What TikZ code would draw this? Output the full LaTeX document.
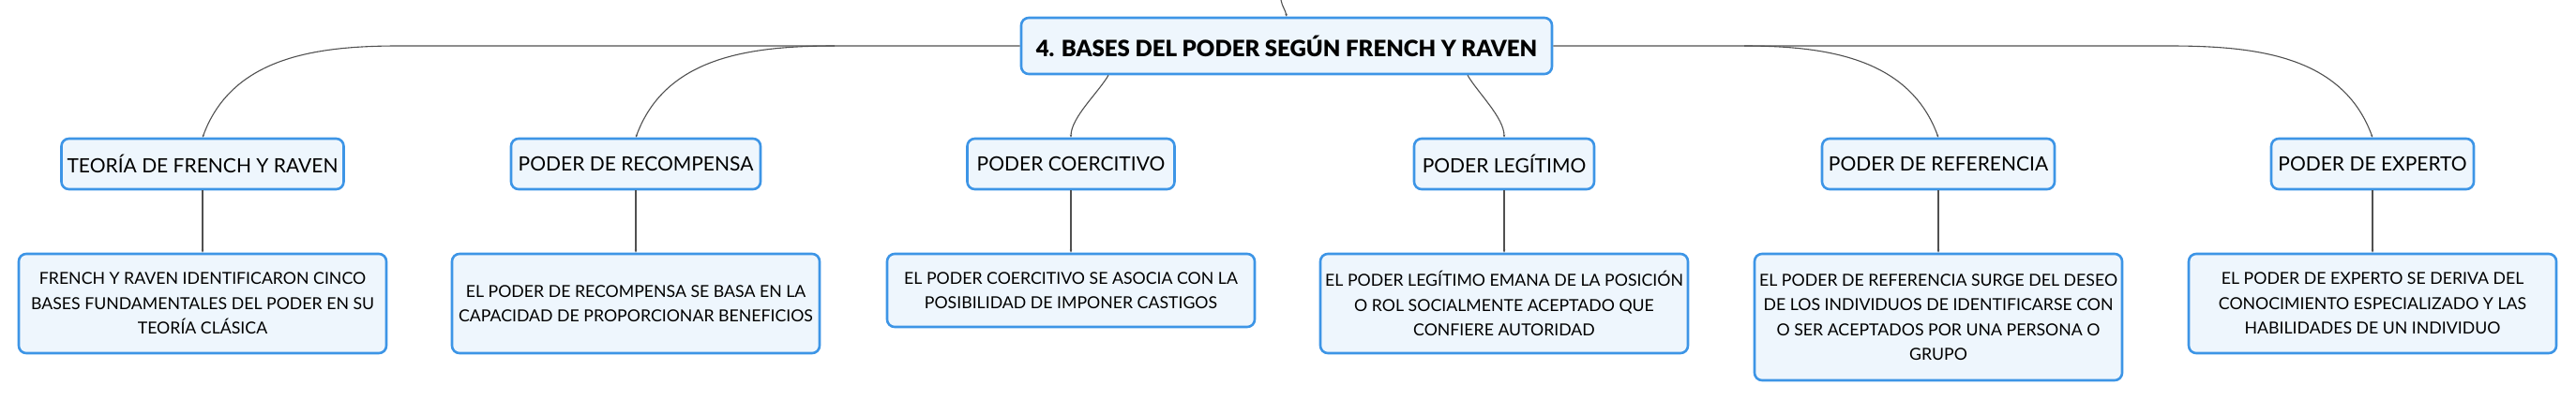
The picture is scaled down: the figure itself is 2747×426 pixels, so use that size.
\documentclass[tikz,border=0pt]{standalone}
\usepackage{fontspec}
\setmainfont{Lato}
\newfontfamily\titulo{Lato Black}
\usetikzlibrary{arrows.meta}
\definecolor{boxblue}{HTML}{3D95E6}
\definecolor{boxfill}{HTML}{EEF6FD}
\definecolor{linegray}{HTML}{505050}

\begin{document}
\begin{tikzpicture}[x=1pt,y=1pt,
  tema/.style={draw=boxblue,fill=boxfill,line width=2.6pt,rounded corners=8pt,inner sep=0pt,align=center,font=\fontsize{24}{30}\selectfont\titulo},
  base/.style={draw=boxblue,fill=boxfill,line width=2.6pt,rounded corners=8pt,inner sep=0pt,align=center,minimum height=54pt,font=\fontsize{21}{26}\selectfont},
  detalle/.style={draw=boxblue,fill=boxfill,line width=2.6pt,rounded corners=8pt,inner sep=0pt,align=center,minimum width=392pt,font=\fontsize{17.7}{26.5}\selectfont},
  rama/.style={draw=linegray,line width=1.1pt,-{Stealth[length=3pt,width=2.5pt]}}]
\useasboundingbox (0,0) rectangle (2747,-426);
\node[tema,minimum width=566pt,minimum height=60pt] (raiz) at (1372,-49) {4. BASES DEL PODER SEGÚN FRENCH Y RAVEN};
\node[base,minimum width=301pt] (teoria) at (216,-175) {TEORÍA DE FRENCH Y RAVEN};
\node[base,minimum width=266pt] (recompensa) at (678,-175) {PODER DE RECOMPENSA};
\node[base,minimum width=221pt] (coercitivo) at (1142,-175) {PODER COERCITIVO};
\node[base,minimum width=192pt] (legitimo) at (1604,-175) {PODER LEGÍTIMO};
\node[base,minimum width=248pt] (referencia) at (2067,-175) {PODER DE REFERENCIA};
\node[base,minimum width=216pt] (experto) at (2530,-175) {PODER DE EXPERTO};
\node[detalle,minimum height=106pt] (dteoria) at (216,-324) {FRENCH Y RAVEN IDENTIFICARON CINCO\\BASES FUNDAMENTALES DEL PODER EN SU\\TEORÍA CLÁSICA};
\node[detalle,minimum height=106pt] (drecompensa) at (678,-324) {EL PODER DE RECOMPENSA SE BASA EN LA\\CAPACIDAD DE PROPORCIONAR BENEFICIOS};
\node[detalle,minimum height=78pt] (dcoercitivo) at (1142,-310) {EL PODER COERCITIVO SE ASOCIA CON LA\\POSIBILIDAD DE IMPONER CASTIGOS};
\node[detalle,minimum height=106pt] (dlegitimo) at (1604,-324) {EL PODER LEGÍTIMO EMANA DE LA POSICIÓN\\O ROL SOCIALMENTE ACEPTADO QUE\\CONFIERE AUTORIDAD};
\node[detalle,minimum height=135pt] (dreferencia) at (2067,-338.5) {EL PODER DE REFERENCIA SURGE DEL DESEO\\DE LOS INDIVIDUOS DE IDENTIFICARSE CON\\O SER ACEPTADOS POR UNA PERSONA O\\GRUPO};
\node[detalle,minimum height=106pt] (dexperto) at (2530,-324) {EL PODER DE EXPERTO SE DERIVA DEL\\CONOCIMIENTO ESPECIALIZADO Y LAS\\HABILIDADES DE UN INDIVIDUO};
\coordinate (entrada) at (1366,0);
\coordinate (izq1) at (425,-49);
\coordinate (izq2) at (890,-49);
\coordinate (der1) at (1860,-49);
\coordinate (der2) at (2313,-49);
\draw[rama] (entrada) to[out=-80,in=100] (raiz.north);
\draw[rama] (raiz.west) -- (izq1) to[out=180,in=70] (teoria.north);
\draw[rama] (izq2) to[out=180,in=70] (recompensa.north);
\draw[rama] ([xshift=-190pt]raiz.south) to[out=240,in=90,looseness=0.7] (coercitivo.north);
\draw[rama] ([xshift=193pt]raiz.south) to[out=-60,in=90,looseness=0.7] (legitimo.north);
\draw[rama] (der1) to[out=0,in=110] (referencia.north);
\draw[rama] (raiz.east) -- (der2) to[out=0,in=110] (experto.north);
\draw[rama] (teoria.south) -- (dteoria.north);
\draw[rama] (recompensa.south) -- (drecompensa.north);
\draw[rama] (coercitivo.south) -- (dcoercitivo.north);
\draw[rama] (legitimo.south) -- (dlegitimo.north);
\draw[rama] (referencia.south) -- (dreferencia.north);
\draw[rama] (experto.south) -- (dexperto.north);
\end{tikzpicture}
\end{document}
